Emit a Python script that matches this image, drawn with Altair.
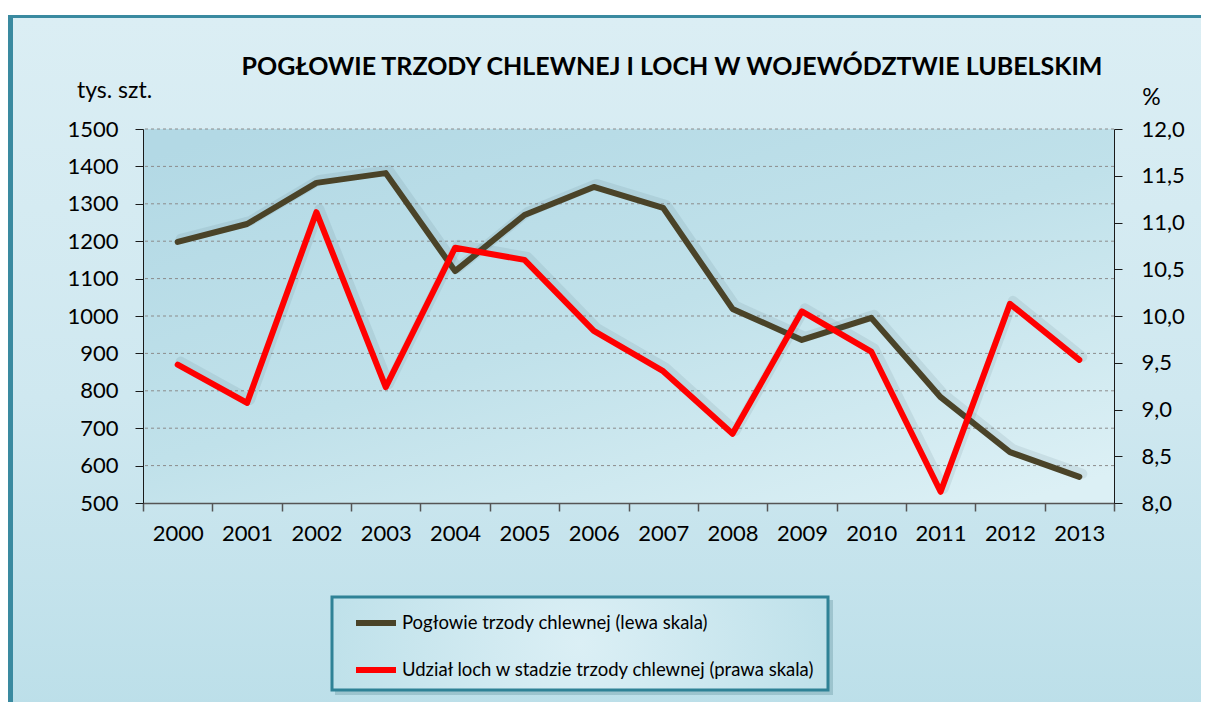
import altair as alt
import pandas as pd

# ---- data ----
years = ["2000", "2001", "2002", "2003", "2004", "2005", "2006",
         "2007", "2008", "2009", "2010", "2011", "2012", "2013"]
pigs = [1198, 1246, 1356, 1382, 1120, 1270, 1345, 1289, 1019, 936, 995, 783, 636, 570]
sows = [9.48, 9.07, 11.11, 9.24, 10.73, 10.60, 9.84, 9.41, 8.74, 10.05, 9.62, 8.12, 10.13, 9.53]
series_names = ["Pogłowie trzody chlewnej (lewa skala)",
                "Udział loch w stadzie trzody chlewnej (prawa skala)"]
title_text = "POGŁOWIE TRZODY CHLEWNEJ I LOCH W WOJEWÓDZTWIE LUBELSKIM"
left_ticks = list(range(500, 1501, 100))
right_ticks = [8.0, 8.5, 9.0, 9.5, 10.0, 10.5, 11.0, 11.5, 12.0]

DARK = "#4a4328"
RED = "#ff0000"
FONT = "Lato"

W, H = 971, 374

df_left = pd.DataFrame({"year": years, "value": pigs, "series": series_names[0]})
df_right = pd.DataFrame({"year": years, "value": sows, "series": series_names[1]})
df_grid = pd.DataFrame({"value": left_ticks[1:]})
one = pd.DataFrame({"k": [0]})

color_enc = alt.Color(
    "series:N",
    scale=alt.Scale(domain=series_names, range=[DARK, RED]),
    legend=alt.Legend(
        title=None, orient="none", legendX=210, legendY=471,
        direction="vertical", symbolType="stroke", symbolSize=1600,
        symbolStrokeWidth=6, labelFont=FONT, labelFontSize=18.5,
        labelColor="#000000", labelOffset=3, rowPadding=12, padding=0,
        labelLimit=600,
    ),
)

x_enc = alt.X(
    "year:O",
    scale=alt.Scale(type="band", paddingInner=0, paddingOuter=0),
    axis=alt.Axis(
        title=None, labelAngle=0, tickBand="extent", grid=False,
        domainColor="#555555", tickColor="#555555", domainWidth=1.5,
        tickWidth=1.5, tickSize=8, labelPadding=12, zindex=1,
    ),
)

# ---- decorative background ----
frame_bg = alt.Chart(one).mark_rect(
    color=alt.LinearGradient(
        gradient="linear", x1=0, y1=0, x2=0, y2=1,
        stops=[alt.GradientStop(offset=0, color="#dbeef4"),
               alt.GradientStop(offset=0.55, color="#cfe8f0"),
               alt.GradientStop(offset=1, color="#bcdfe9")],
    )
).encode(x=alt.value(-130), x2=alt.value(1070), y=alt.value(-111), y2=alt.value(580))

frame_left = alt.Chart(one).mark_rect(color="#3a8aa0").encode(
    x=alt.value(-136), x2=alt.value(-130), y=alt.value(-114), y2=alt.value(580))
frame_top = alt.Chart(one).mark_rect(color="#3a8aa0").encode(
    x=alt.value(-136), x2=alt.value(1070), y=alt.value(-114), y2=alt.value(-111))

plot_bg = alt.Chart(one).mark_rect(
    color=alt.LinearGradient(
        gradient="linear", x1=0.1, y1=0, x2=0.9, y2=1,
        stops=[alt.GradientStop(offset=0, color="#b3d9e5"),
               alt.GradientStop(offset=0.5, color="#c0e1ea"),
               alt.GradientStop(offset=1, color="#dcf0f5")],
    )
).encode(x=alt.value(0), x2=alt.value(W), y=alt.value(0), y2=alt.value(H))

legend_shadow = alt.Chart(one).mark_rect(color="#5f8f9c", opacity=0.35).encode(
    x=alt.value(192), x2=alt.value(690), y=alt.value(471), y2=alt.value(566))
legend_box = alt.Chart(one).mark_rect(
    color=alt.RadialGradient(
        gradient="radial",
        stops=[alt.GradientStop(offset=0, color="#dbeff5"),
               alt.GradientStop(offset=1, color="#bfe1ea")],
    ),
    stroke="#2f8296", strokeWidth=3,
).encode(x=alt.value(189), x2=alt.value(685), y=alt.value(468), y2=alt.value(561))

title = alt.Chart(one).mark_text(
    text=title_text, font=FONT, fontSize=25, fontWeight="bold",
    align="center", baseline="middle", color="#000000",
).encode(x=alt.value(529), y=alt.value(-62))

# ---- left series ----
left_scale = alt.Scale(domain=[500, 1500], nice=False, zero=False)
left_axis = alt.Axis(
    values=left_ticks, format="d", title="tys. szt.", titleAngle=0,
    titleX=-29, titleY=-39, titleAlign="center", titleBaseline="middle",
    titleFont=FONT, titleFontSize=23, titleFontWeight="normal",
    titleColor="#000000", grid=False, tickSize=8, labelPadding=17,
    domainColor="#1a1a1a", tickColor="#1a1a1a", zindex=1,
)
left_y = alt.Y("value:Q", scale=left_scale, axis=left_axis)
grid = alt.Chart(df_grid).mark_rule(
    color="#8c8c8c", strokeDash=[3, 3], strokeWidth=1,
).encode(y=left_y)
left_shadow = alt.Chart(df_left).mark_line(
    color="#3a5560", opacity=0.1, strokeWidth=10, xOffset=3, yOffset=-3,
    strokeJoin="round", strokeCap="round",
).encode(x=x_enc, y=left_y)
left_line = alt.Chart(df_left).mark_line(
    strokeWidth=6, strokeJoin="round", strokeCap="round",
).encode(x=x_enc, y=left_y, color=color_enc)
left_group = alt.layer(grid, left_shadow, left_line)

# ---- right series ----
right_y = alt.Y(
    "value:Q",
    scale=alt.Scale(domain=[8, 12], nice=False, zero=False),
    axis=alt.Axis(
        orient="right", values=right_ticks,
        labelExpr="replace(format(datum.value, '.1f'), '.', ',')",
        title="%", titleAngle=0, titleX=37, titleY=-32,
        titleAlign="center", titleBaseline="middle", titleFont=FONT,
        titleFontSize=23, titleFontWeight="normal", titleColor="#000000",
        grid=False, tickSize=8, labelPadding=19,
        domainColor="#1a1a1a", tickColor="#1a1a1a", zindex=1,
    ),
)
right_shadow = alt.Chart(df_right).mark_line(
    color="#3a5560", opacity=0.1, strokeWidth=10, xOffset=3, yOffset=-3,
    strokeJoin="round", strokeCap="round",
).encode(x=x_enc, y=right_y)
right_line = alt.Chart(df_right).mark_line(
    strokeWidth=6, strokeJoin="round", strokeCap="round",
).encode(x=x_enc, y=right_y, color=color_enc)
right_group = alt.layer(right_shadow, right_line)

lines = alt.layer(left_group, right_group).resolve_scale(y="independent")

chart = alt.layer(
    frame_bg, frame_left, frame_top, plot_bg, title,
    legend_shadow, legend_box, lines,
).properties(
    width=W, height=H,
    autosize=alt.AutoSizeParams(type="none"),
    padding={"left": 135, "top": 121, "right": 87, "bottom": 199},
    background="#ffffff",
).configure_view(stroke=None).configure_axis(
    labelFont=FONT, labelFontSize=22, labelColor="#000000",
)

chart.save("out.html", embed_options={"renderer": "svg", "actions": False})
